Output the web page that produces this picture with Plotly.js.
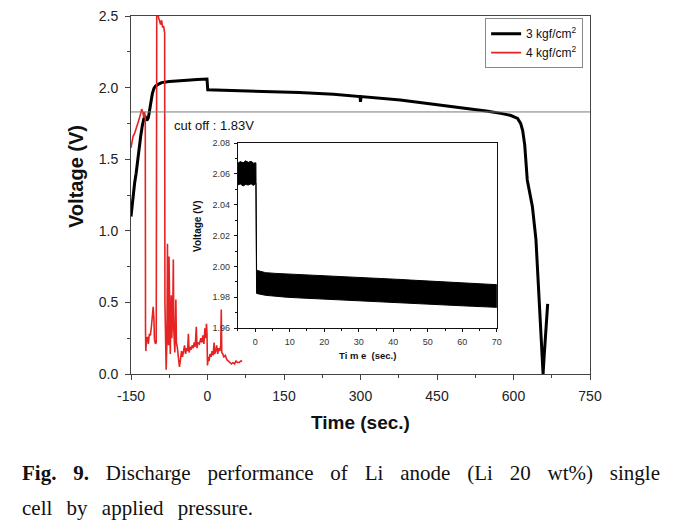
<!DOCTYPE html>
<html>
<head>
<meta charset="utf-8">
<script src="https://cdn.plot.ly/plotly-3.0.1.min.js"></script>
<style>
  html, body { margin:0; padding:0; background:#fff; }
  #wrap { position:relative; width:677px; height:527px; overflow:hidden; }
  #chart { position:absolute; left:0; top:0; width:677px; height:527px; }
  #cap { position:absolute; left:22px; top:456px; width:638px;
         font-family:'Liberation Serif','Times New Roman',serif; font-size:21px;
         line-height:35px; color:#111; }
  #cap .l1 { text-align:justify; text-align-last:justify; }
  #cap .l2 { word-spacing:9px; }
</style>
</head>
<body>
<div id="wrap">
  <div id="chart"></div>
  <div id="cap">
    <div class="l1"><b>Fig. 9.</b> Discharge performance of Li anode (Li 20 wt%) single</div>
    <div class="l2">cell by applied pressure.</div>
  </div>
</div>
<script>
// ---- Main chart: 3 kgf/cm2 (black) ----
const blackTime = [-150,-148,-146,-143,-140,-137,-134,-131,-128,-125,-122,-119,-116,-114,-111,-108,-105,-102,-96,-90,-75,-60,-40,-20,-1,
  0.5,30,84,117,180,247,299,300,301,378,443,509,550,575,595,608,614,618,622,627,632,637,644,648,651,654,656,658,660,663,667];
const blackVolt = [1.10,1.18,1.25,1.33,1.40,1.50,1.58,1.66,1.73,1.78,1.80,1.77,1.79,1.84,1.90,1.96,1.995,2.01,2.025,2.035,2.042,2.048,2.052,2.056,2.06,
  1.985,1.982,1.978,1.975,1.965,1.953,1.937,1.90,1.937,1.913,1.885,1.855,1.835,1.82,1.805,1.785,1.75,1.70,1.60,1.355,1.25,1.17,0.94,0.66,0.45,0.24,0.12,0.0,0.12,0.28,0.49];

// ---- Main chart: 4 kgf/cm2 (red) ----
const redTime = [-150,-148,-146,-143,-140,-137,-134,-131,-129,-127,-125,-123.5,-122,-121.5,-121,-120,-118,-116,-114,-112,-110,-108,-106.5,-105,-104,-102,-100.5,
  -99.5,-98,-96,-94,-92,-90,-88,-86,-84,-83.5,-82.5,-81,-79.5,-78.5,-77.5,-76.5,-75.5,-74.5,-73,-71,-70,-68,-67,-66,-64,-62,-61,-59,-57,-55,-53,-51,-49,-47,-45,-43,-41,-39,
  -37.5,-36,-34,-32,-30,-28,-26,-24,-22,-20.5,-19,-16,-13,-11,-9,-7,-5,-3.5,-2,-1,0,1.5,3,5,7,9,11,13,14,16,18,20,22,24,26,27,28,30,32,35,38,41,44,47,50,53,56,59,62,65,68];
const redVolt = [1.58,1.62,1.66,1.68,1.71,1.74,1.78,1.82,1.85,1.83,1.79,1.83,1.80,0.30,0.16,0.22,0.26,0.21,0.28,0.27,0.33,0.40,0.47,0.38,0.24,0.21,0.22,
  2.6,2.58,2.49,2.46,2.44,2.47,2.42,2.43,2.38,0.5,0.05,0.03,0.25,0.91,0.42,0.2,0.82,0.3,0.14,0.55,0.25,0.45,0.80,0.3,0.15,0.52,0.22,0.18,0.08,0.05,0.10,0.16,0.12,0.15,0.20,0.14,0.18,0.16,
  0.28,0.15,0.19,0.17,0.20,0.18,0.22,0.19,0.33,0.18,0.22,0.21,0.25,0.22,0.27,0.21,0.32,0.25,0.35,0.28,0.06,0.12,0.09,0.14,0.12,0.16,0.13,0.22,0.14,0.16,0.20,0.14,0.18,0.16,0.20,0.45,0.15,0.14,0.12,0.13,0.10,0.09,0.08,0.07,0.08,0.07,0.09,0.08,0.08,0.09,0.09];

const cutoffV = 1.83;
const cutoffLabel = 'cut off : 1.83V';
const seriesNames = ['3 kgf/cm<sup>2</sup>', '4 kgf/cm<sup>2</sup>'];
const xTickVals = [-150, 0, 150, 300, 450, 600, 750];
const xTickText = ['-150', '0', '150', '300', '450', '600', '750'];

// ---- Inset: noisy band of the 3 kgf/cm2 cell around t = 0 ----
const insetPreTime  = [-5,-4.3,-3.5,-2.8,-2,-1.2,-0.5,0.2];
const insetPreUpper = [2.0670,2.0680,2.0672,2.0685,2.0675,2.0682,2.0670,2.0672];
const insetPreLower = [2.0530,2.0535,2.0522,2.0532,2.0528,2.0536,2.0525,2.0540];
const insetPostTime  = [0.4,3,6,9,12,15,18,21,24,27,30,33,36,39,42,45,48,51,54,57,60,63,66,68,70];
const insetPostUpper = [1.9975,1.9960,1.9955,1.9952,1.9950,1.9946,1.9944,1.9940,1.9936,1.9932,1.9929,1.9926,1.9922,1.9919,1.9916,1.9912,1.9909,1.9906,1.9902,1.9899,1.9896,1.9893,1.9889,1.9886,1.9882];
const insetPostLower = [1.9825,1.9813,1.9806,1.9801,1.9797,1.9793,1.9788,1.9785,1.9781,1.9778,1.9775,1.9772,1.9769,1.9766,1.9763,1.9760,1.9757,1.9754,1.9751,1.9748,1.9745,1.9742,1.9740,1.9738,1.9735];

// Build closed outline of the inset band from the read envelopes
const bandX = [], bandY = [];
for (let i = 0; i < insetPreTime.length; i++) { bandX.push(insetPreTime[i]); bandY.push(insetPreUpper[i]); }
for (let i = 0; i < insetPostTime.length; i++) { bandX.push(insetPostTime[i]); bandY.push(insetPostUpper[i]); }
for (let i = insetPostTime.length - 1; i >= 0; i--) { bandX.push(insetPostTime[i]); bandY.push(insetPostLower[i]); }
for (let i = insetPreTime.length - 1; i >= 0; i--) { bandX.push(insetPreTime[i]); bandY.push(insetPreLower[i]); }

const FONT = 'Liberation Sans, Arial, sans-serif';

const traces = [
  { x: blackTime, y: blackVolt, type: 'scatter', mode: 'lines', name: seriesNames[0],
    line: { color: '#000000', width: 3 }, xaxis: 'x', yaxis: 'y' },
  { x: redTime, y: redVolt, type: 'scatter', mode: 'lines', name: seriesNames[1],
    line: { color: '#e52322', width: 1.6 }, xaxis: 'x', yaxis: 'y' },
  { x: bandX, y: bandY, type: 'scatter', mode: 'lines', fill: 'toself', fillcolor: '#000000',
    line: { color: '#000000', width: 1 }, showlegend: false, xaxis: 'x2', yaxis: 'y2' }
];

const axisCommon = {
  showline: true, mirror: true, linecolor: '#444', linewidth: 1,
  showgrid: false, zeroline: false, ticks: 'outside', tickcolor: '#444',
  tickfont: { family: FONT, size: 14, color: '#222' }
};

const layout = {
  width: 677, height: 527,
  margin: { l: 131, r: 87, t: 16, b: 153 },
  paper_bgcolor: 'rgba(0,0,0,0)', plot_bgcolor: 'rgba(0,0,0,0)',
  font: { family: FONT, color: '#222' },
  showlegend: true,
  legend: {
    x: 0.985, xanchor: 'right', y: 0.994, yanchor: 'top',
    bgcolor: '#ffffff', bordercolor: '#888', borderwidth: 1,
    font: { family: FONT, size: 12, color: '#111' },
    itemwidth: 30, tracegroupgap: 0
  },
  xaxis: Object.assign({}, axisCommon, {
    domain: [0, 1], range: [-150, 750], tickmode: 'array', tickvals: xTickVals, ticktext: xTickText, ticklen: 5,
    minor: { ticks: 'outside', ticklen: 3, dtick: 75, tick0: -150, tickcolor: '#444' },
    ticklabelstandoff: 4
  }),
  yaxis: Object.assign({}, axisCommon, {
    domain: [0, 1], range: [0, 2.5], dtick: 0.5, ticklen: 5, tickformat: '.1f',
    minor: { ticks: 'outside', ticklen: 3, dtick: 0.25, tickcolor: '#444' },
    ticklabelstandoff: 4
  }),
  xaxis2: {
    domain: [0.233, 0.797], anchor: 'y2', range: [-5, 70], dtick: 10, tick0: 0,
    showline: true, mirror: true, linecolor: '#111', linewidth: 1, showgrid: false, zeroline: false,
    ticks: 'outside', ticklen: 3, tickcolor: '#111',
    minor: { ticks: 'outside', ticklen: 2, dtick: 5, tick0: 0, tickcolor: '#111' },
    tickfont: { family: FONT, size: 9, color: '#333' }, ticklabelstandoff: 2
  },
  yaxis2: {
    domain: [0.128, 0.645], anchor: 'x2', range: [1.96, 2.08], dtick: 0.02, tick0: 1.96, tickformat: '.2f',
    showline: true, mirror: true, linecolor: '#111', linewidth: 1, showgrid: false, zeroline: false,
    ticks: 'outside', ticklen: 3, tickcolor: '#111',
    minor: { ticks: 'outside', ticklen: 2, dtick: 0.01, tickcolor: '#111' },
    tickfont: { family: FONT, size: 9, color: '#333' }, ticklabelstandoff: 2
  },
  shapes: [
    { type: 'line', xref: 'paper', yref: 'y', x0: 0, x1: 1, y0: cutoffV, y1: cutoffV,
      line: { color: '#7a7a7a', width: 1 } }
  ],
  annotations: [
    { text: cutoffLabel, xref: 'x', yref: 'paper', x: -69, y: (374 - 125) / 358, xanchor: 'left', yanchor: 'middle',
      showarrow: false, font: { family: FONT, size: 13, color: '#111' } },
    { text: '<b>Voltage (V)</b>', xref: 'paper', yref: 'paper', x: (76 - 131) / 459, y: (374 - 177) / 358,
      xanchor: 'center', yanchor: 'middle', textangle: -90, showarrow: false,
      font: { family: FONT, size: 20, color: '#111' } },
    { text: '<b>Time (sec.)</b>', xref: 'paper', yref: 'paper', x: (360 - 131) / 459, y: (374 - 422) / 358,
      xanchor: 'center', yanchor: 'middle', showarrow: false,
      font: { family: FONT, size: 19, color: '#111' } },
    { text: '<b>Voltage (V)</b>', xref: 'paper', yref: 'paper', x: (197 - 131) / 459, y: (374 - 227) / 358,
      xanchor: 'center', yanchor: 'middle', textangle: -90, showarrow: false,
      font: { family: FONT, size: 10, color: '#111' } },
    { text: '<b>Ti m e  (sec.)</b>', xref: 'paper', yref: 'paper', x: (367 - 131) / 459, y: (374 - 355) / 358,
      xanchor: 'center', yanchor: 'middle', showarrow: false,
      font: { family: FONT, size: 9.5, color: '#111' } }
  ]
};

Plotly.newPlot('chart', traces, layout, { displayModeBar: false, staticPlot: true });
</script>
</body>
</html>
